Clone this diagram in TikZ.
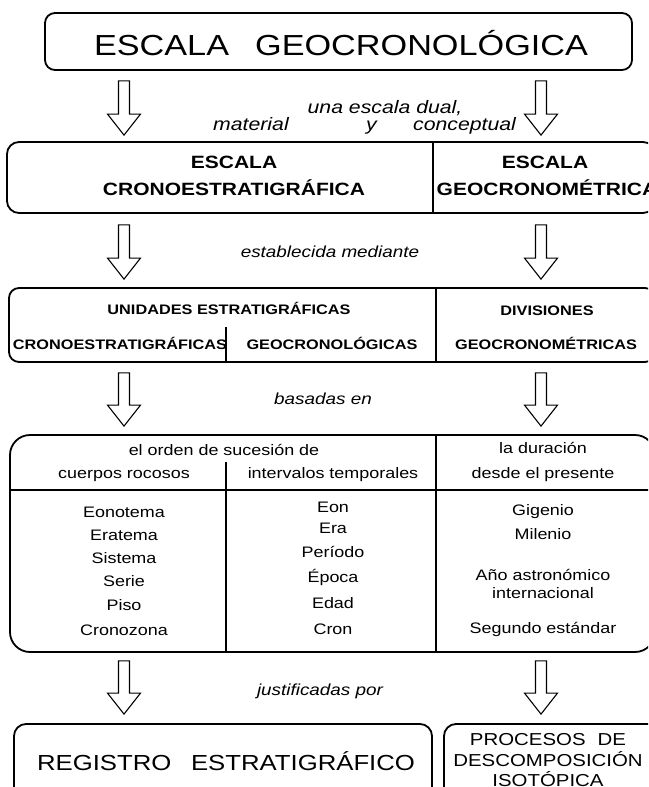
\documentclass[tikz,border=0pt]{standalone}
\usepackage{fontspec}
\setmainfont{Liberation Sans}[FakeStretch=1.18]
\usetikzlibrary{calc}

\newcommand{\hollowarrow}[2]{%
  \draw[hollow] let \p1=(#1), \p2=(#2) in
    (\x1-5.5pt,\y1) -- (\x1-5.5pt,\y2+21pt) -- (\x1-16.5pt,\y2+21pt) -- (\x1,\y2)
    -- (\x1+16.5pt,\y2+21pt) -- (\x1+5.5pt,\y2+21pt) -- (\x1+5.5pt,\y1) -- cycle;}

\begin{document}
\begin{tikzpicture}[
    x=1pt, y=-1pt,
    box/.style={draw, line width=1.8pt, rounded corners=10pt, inner sep=0pt},
    hollow/.style={line width=1.1pt, line join=miter},
    divider/.style={line width=1.4pt},
    label/.style={anchor=base, inner sep=0pt, font=\itshape\fontsize{16}{18}\selectfont},
    head/.style={anchor=base, inner sep=0pt, font=\bfseries\fontsize{17.8}{20}\selectfont},
    unit/.style={anchor=base, inner sep=0pt, font=\bfseries\fontsize{13.8}{16}\selectfont},
    item/.style={anchor=base, inner sep=0pt, font=\fontsize{15.2}{18}\selectfont},
    big/.style={anchor=base, inner sep=0pt, font=\fontsize{21.8}{24}\selectfont}
]
    \useasboundingbox (0,0) rectangle (648,787);
    \clip (0,0) rectangle (648,787);

    % Columns of the arrows
    \coordinate (colL) at (124,0);
    \coordinate (colR) at (541,0);

    % Boxes
    \node[box, minimum width=587pt, minimum height=57pt] (title) at (338.5,41.5) {};
    \node[box, rounded corners=12pt, minimum width=648pt, minimum height=71pt] (dual) at (331,177.5) {};
    \node[box, minimum width=646pt, minimum height=74pt] (units) at (332,325) {};
    \node[box, rounded corners=20pt, minimum width=645pt, minimum height=217pt] (basis) at (332.5,543.5) {};
    \node[box, rounded corners=12pt, minimum width=418pt, minimum height=76pt] (registro) at (223,762) {};
    \node[box, rounded corners=12pt, minimum width=216pt, minimum height=76pt] (procesos) at (552,762) {};

    % Dividers
    \coordinate (divA) at (433,0);
    \coordinate (divB) at (436,0);
    \coordinate (divC) at (226,0);
    \draw[divider] (dual.north -| divA) -- (dual.south -| divA);
    \draw[divider] (units.north -| divB) -- (units.south -| divB);
    \draw[divider] (divC |- 0,327) -- (units.south -| divC);
    \draw[divider] (basis.north -| divB) -- (basis.south -| divB);
    \draw[divider] (divC |- 0,462) -- (basis.south -| divC);
    \draw[divider] (basis.west |- 0,490) -- (basis.east |- 0,490);

    % Title
    \node[anchor=base, inner sep=0pt, font=\fontsize{29}{32}\selectfont] (ttext) at (341,55)
        {ESCALA\hspace{0.9em}GEOCRONOLÓGICA};

    % Row 2 - dual scale
    \node[head] (escA) at (234,168) {ESCALA};
    \node[head] (escB) at (234,195) {CRONOESTRATIGRÁFICA};
    \node[head] (escC) at (545,168) {ESCALA};
    \node[head] (escD) at (547,195) {GEOCRONOMÉTRICA};

    % Row 3 - units
    \node[unit] (uniA) at (229,314) {UNIDADES ESTRATIGRÁFICAS};
    \node[unit] (uniB) at (120,349) {CRONOESTRATIGRÁFICAS};
    \node[unit] (uniC) at (332,349) {GEOCRONOLÓGICAS};
    \node[unit] (uniD) at (547,315) {DIVISIONES};
    \node[unit] (uniE) at (546,349) {GEOCRONOMÉTRICAS};

    % Row 4 - header
    \node[item] (hA) at (224,455) {el orden de sucesión de};
    \node[item] (hB) at (124,478) {cuerpos rocosos};
    \node[item] (hC) at (333,478) {intervalos temporales};
    \node[item] (hD) at (543,453) {la duración};
    \node[item] (hE) at (543,478) {desde el presente};

    % Row 4 - bodies
    \node[item] (b1) at (124,517) {Eonotema};
    \node[item] (b2) at (124,540) {Eratema};
    \node[item] (b3) at (124,563) {Sistema};
    \node[item] (b4) at (124,586) {Serie};
    \node[item] (b5) at (124,610) {Piso};
    \node[item] (b6) at (124,635) {Cronozona};

    % Row 4 - intervals
    \node[item] (i1) at (333,512) {Eon};
    \node[item] (i2) at (333,533) {Era};
    \node[item] (i3) at (333,557) {Período};
    \node[item] (i4) at (333,582) {Época};
    \node[item] (i5) at (333,608) {Edad};
    \node[item] (i6) at (333,634) {Cron};

    % Row 4 - durations
    \node[item] (d1) at (543,515) {Gigenio};
    \node[item] (d2) at (543,539) {Milenio};
    \node[item] (d3) at (543,580) {Año astronómico};
    \node[item] (d4) at (543,598) {internacional};
    \node[item] (d5) at (543,633) {Segundo estándar};

    % Row 5 - records
    \node[big] (reg) at (226,770) {REGISTRO\hspace{0.9em}ESTRATIGRÁFICO};
    \node[item, font=\fontsize{17.3}{18}\selectfont] (pA) at (548,745) {PROCESOS\hspace{0.7em}DE};
    \node[item, font=\fontsize{17.3}{18}\selectfont] (pB) at (548,766) {DESCOMPOSICIÓN};
    \node[item, font=\fontsize{17.3}{18}\selectfont] (pC) at (548,786) {ISOTÓPICA};

    % Links
    \node[label, font=\itshape\fontsize{18}{20}\selectfont] (lk1) at (385,113) {una escala dual,};
    \node[label, font=\itshape\fontsize{18}{20}\selectfont, anchor=base west] (lk1a) at (213,130) {material};
    \node[label, font=\itshape\fontsize{18}{20}\selectfont, anchor=base west] (lk1b) at (366,130) {y};
    \node[label, font=\itshape\fontsize{18}{20}\selectfont, anchor=base west] (lk1c) at (413,130) {conceptual};
    \node[label] (lk2) at (330,257) {establecida mediante};
    \node[label] (lk3) at (323,404) {basadas en};
    \node[label] (lk4) at (320,695) {justificadas por};

    % Arrows
    \hollowarrow{$(title.south -| colL)+(0,10)$}{$(dual.north -| colL)+(0,-6)$}
    \hollowarrow{$(title.south -| colR)+(0,10)$}{$(dual.north -| colR)+(0,-6)$}
    \hollowarrow{$(dual.south -| colL)+(0,11)$}{$(units.north -| colL)+(0,-8)$}
    \hollowarrow{$(dual.south -| colR)+(0,11)$}{$(units.north -| colR)+(0,-8)$}
    \hollowarrow{$(units.south -| colL)+(0,10)$}{$(basis.north -| colL)+(0,-8)$}
    \hollowarrow{$(units.south -| colR)+(0,10)$}{$(basis.north -| colR)+(0,-8)$}
    \hollowarrow{$(basis.south -| colL)+(0,8)$}{$(registro.north -| colL)+(0,-9)$}
    \hollowarrow{$(basis.south -| colR)+(0,8)$}{$(procesos.north -| colR)+(0,-9)$}
\end{tikzpicture}
\end{document}
